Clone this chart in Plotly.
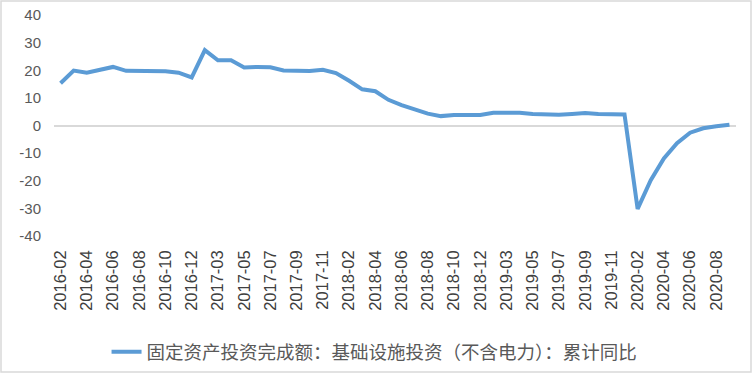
import plotly.graph_objects as go

categories = [
    "2016-02", "2016-03", "2016-04", "2016-05", "2016-06", "2016-07", "2016-08", "2016-09", "2016-10", "2016-11", "2016-12",
    "2017-02", "2017-03", "2017-04", "2017-05", "2017-06", "2017-07", "2017-08", "2017-09", "2017-10", "2017-11", "2017-12",
    "2018-02", "2018-03", "2018-04", "2018-05", "2018-06", "2018-07", "2018-08", "2018-09", "2018-10", "2018-11", "2018-12",
    "2019-02", "2019-03", "2019-04", "2019-05", "2019-06", "2019-07", "2019-08", "2019-09", "2019-10", "2019-11", "2019-12",
    "2020-02", "2020-03", "2020-04", "2020-05", "2020-06", "2020-07", "2020-08", "2020-09",
]

values = [
    15.3, 19.9, 19.1, 20.3, 21.2, 19.8, 19.8, 19.9, 19.6, 19.1, 17.4,
    27.3, 23.6, 23.6, 21.0, 21.2, 21.1, 19.9, 19.8, 19.7, 20.2, 19.0,
    16.2, 13.1, 12.4, 9.3, 7.4, 5.8, 4.3, 3.4, 3.8, 3.8, 3.8,
    4.6, 4.6, 4.6, 4.2, 4.1, 3.9, 4.2, 4.5, 4.2, 4.0, 4.0,
    -30.2, -19.8, -11.9, -6.4, -2.6, -1.0, -0.3, 0.3,
]

series_name = "固定资产投资完成额：基础设施投资（不含电力）：累计同比"

y_ticks = [-40, -30, -20, -10, 0, 10, 20, 30, 40]
x_tick_labels = categories[::2]

W, H = 752, 373
L, R, T, B = 54, 16, 15, 137
pw, ph = W - L - R, H - T - B

fig = go.Figure()
fig.add_trace(go.Scatter(
    x=categories, y=values, mode="lines", name=series_name,
    line=dict(color="#5B9BD5", width=4),
))

fig.update_layout(
    width=W, height=H,
    margin=dict(l=L, r=R, t=T, b=B, pad=0, autoexpand=False),
    paper_bgcolor="white", plot_bgcolor="white",
    showlegend=True,
    legend=dict(
        orientation="h", x=0.47, xanchor="center", y=-0.44, yanchor="top",
        font=dict(family="Noto Sans CJK SC", size=18.5, color="#595959"),
        bgcolor="rgba(0,0,0,0)",
    ),
    xaxis=dict(
        type="category", range=[-0.5, len(categories) - 0.5], automargin=False,
        tickmode="array", tickvals=x_tick_labels, ticktext=x_tick_labels,
        tickangle=-90, showgrid=False, zeroline=False, showline=False,
        ticks="", ticklabelstandoff=10,
        tickfont=dict(family="Liberation Sans, Arial", size=16.5, color="#404040"),
    ),
    yaxis=dict(
        range=[-40, 40], tickmode="array", tickvals=y_ticks, automargin=False,
        ticktext=[str(v) for v in y_ticks],
        showgrid=False, zeroline=True, zerolinecolor="#D9D9D9", zerolinewidth=1.5,
        showline=False, ticks="", ticklabelstandoff=12,
        tickfont=dict(family="Liberation Sans, Arial", size=15, color="#595959"),
    ),
    shapes=[dict(
        type="rect", xref="paper", yref="paper",
        x0=(-L + 1) / pw, x1=1 + (R - 1) / pw,
        y0=(-B + 1) / ph, y1=1 + (T - 1) / ph,
        line=dict(color="#D9D9D9", width=1.5), fillcolor="rgba(0,0,0,0)",
        layer="below",
    )],
)

fig.write_html(
    "out.html",
    config={"displayModeBar": False},
    post_script="document.body.style.margin='0';document.body.style.overflow='hidden';",
)
